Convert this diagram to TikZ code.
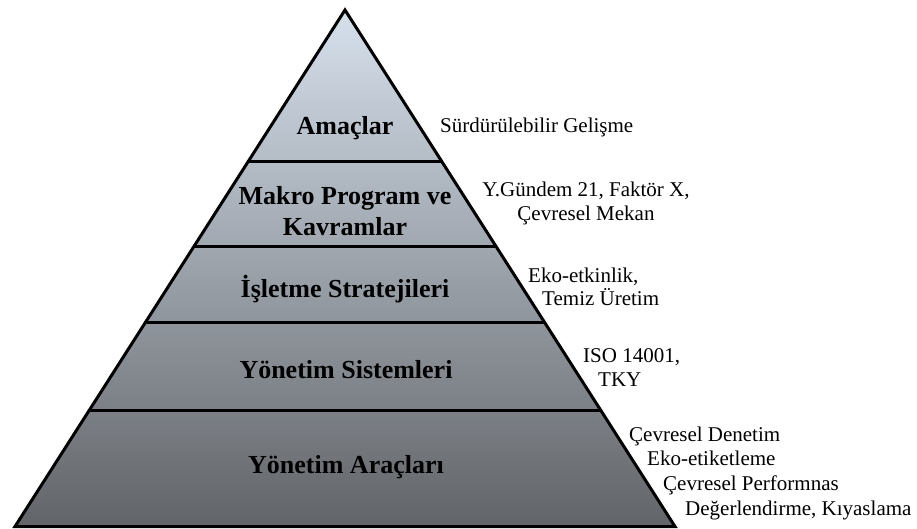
\documentclass[tikz,border=0pt]{standalone}
\usepackage{fontspec}
\setmainfont{Liberation Serif}
\usetikzlibrary{calc}
\begin{document}
\begin{tikzpicture}[x=1pt,y=-1pt,
  level/.style={font=\fontsize{26}{31}\selectfont\bfseries, anchor=base, inner sep=0pt},
  note/.style={font=\fontsize{21}{24}\selectfont, anchor=base west, inner sep=0pt},
  notec/.style={font=\fontsize{21}{24}\selectfont, anchor=base, inner sep=0pt},
  edge/.style={line width=3pt, line join=miter, black}]
\useasboundingbox (0,0) rectangle (917,529);

% pyramid corners
\coordinate (apex) at (345,10);
\coordinate (bl) at (15,526.5);
\coordinate (br) at (675,526.5);

% shaded body
\shade[top color={rgb,255:red,214;green,224;blue,236},
       middle color={rgb,255:red,164;green,171;blue,180},
       bottom color={rgb,255:red,97;green,100;blue,104}]
  (apex) -- (bl) -- (br) -- cycle;

% band dividers
\foreach \t [count=\i] in {0.2937,0.4583,0.6054,0.7758} {
  \coordinate (l\i) at ($(apex)!\t!(bl)$);
  \coordinate (r\i) at ($(apex)!\t!(br)$);
  \draw[edge, line cap=butt] (l\i) -- (r\i);
}

% outline
\draw[edge] (apex) -- (bl) -- (br) -- cycle;

% level titles
\node[level] (amac) at (345,135) {Amaçlar};
\node[level] (makro1) at (345,205) {Makro Program ve};
\node[level] (makro2) at (345,236) {Kavramlar};
\node[level] (isletme) at (345,297) {İşletme Stratejileri};
\node[level] (sistem) at (346,378) {Yönetim Sistemleri};
\node[level] (arac) at (346,473) {Yönetim Araçları};

% side notes
\node[note] (n1) at (440,133) {Sürdürülebilir Gelişme};
\node[notec] (n2a) at (586,197) {Y.Gündem 21, Faktör X,};
\node[notec] (n2b) at (586,221) {Çevresel Mekan};
\node[note] (n3a) at (528,282) {Eko-etkinlik,};
\node[note] (n3b) at (542,305) {Temiz Üretim};
\node[note] (n4a) at (583,362) {ISO 14001,};
\node[note] (n4b) at (598,386) {TKY};
\node[note] (n5a) at (629,441) {Çevresel Denetim};
\node[note] (n5b) at (647,465) {Eko-etiketleme};
\node[note] (n5c) at (663,490) {Çevresel Performnas};
\node[note] (n5d) at (685,515) {Değerlendirme, Kıyaslama};
\end{tikzpicture}
\end{document}
